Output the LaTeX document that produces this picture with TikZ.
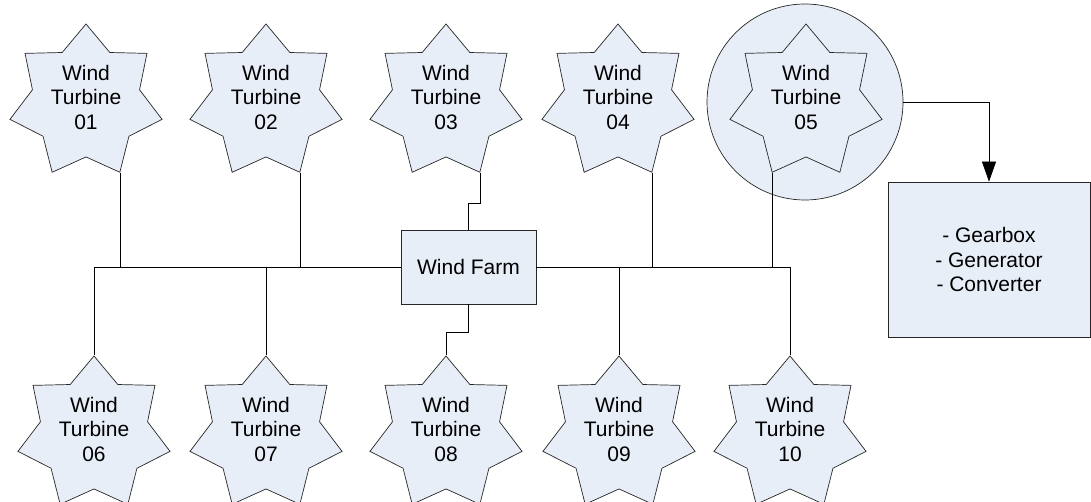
\documentclass[tikz,border=0pt]{standalone}
\usepackage{fontspec}
\setmainfont{Liberation Sans}
\usetikzlibrary{shapes.geometric,arrows.meta,calc}
\definecolor{shapefill}{RGB}{232,238,248}
\begin{document}
\begin{tikzpicture}[x=1pt,y=-1pt,
  turbine/.style={star, star points=7, star point ratio=1.42, minimum size=156pt,
    inner sep=0pt, draw=black!85, fill=shapefill, line width=0.7pt},
  tlabel/.style={align=center, font=\fontsize{21}{24.5}\selectfont, inner sep=0pt},
  box/.style={draw=black!85, fill=shapefill, line width=0.7pt, align=center,
    font=\fontsize{21}{24.5}\selectfont},
  wire/.style={draw=black, line width=0.7pt}]

\useasboundingbox (0,0) rectangle (1091,502);

% highlight around turbine 05
\node[circle, draw=black!85, fill=shapefill, line width=0.7pt,
      minimum size=196pt, inner sep=0pt] (c05) at (805,102) {};

% turbines
\foreach \n/\x/\y in {01/86/102, 02/266/102, 03/446/102, 04/618/102, 05/806/102,
                      06/94/434, 07/266/434, 08/446/434, 09/619/434, 10/790/434} {
  \node[turbine] (t\n) at (\x,\y) {};
  \node[tlabel, yshift=5pt] (l\n) at (t\n.center) {Wind\\Turbine\\\n};
}

% farm and component boxes
\node[box, minimum width=135pt, minimum height=74pt] (wf) at (468.5,267) {Wind Farm};
\node[box, minimum width=202pt, minimum height=155pt] (parts) at (989,259.5)
  {- Gearbox\\- Generator\\- Converter};

% bus
\coordinate (busL) at (t06.outer point 1 |- wf.west);
\coordinate (busR) at (t10.outer point 1 |- wf.east);
\draw[wire] (busL) -- (wf.west);
\draw[wire] (wf.east) -- (busR);

% upper turbines to bus
\draw[wire] (t01.outer point 5) -- (t01.outer point 5 |- busL);
\draw[wire] (t02.outer point 5) -- (t02.outer point 5 |- busL);
\draw[wire] (t04.outer point 5) -- (t04.outer point 5 |- busL);
\draw[wire] (t05.outer point 4) -- (t05.outer point 4 |- busL);
\draw[wire] (t03.outer point 5) -- ++(0,31) -| (wf.north);

% bus to lower turbines
\draw[wire] (busL) -- (t06.outer point 1);
\draw[wire] (t07.outer point 1 |- busL) -- (t07.outer point 1);
\draw[wire] (t09.outer point 1 |- busL) -- (t09.outer point 1);
\draw[wire] (busR) -- (t10.outer point 1);
\draw[wire] (wf.south) -- ++(0,28) -| (t08.outer point 1);

% detail arrow
\draw[wire, -{Triangle[length=20pt,width=14pt]}] (c05.east) -| (parts.north);
\end{tikzpicture}
\end{document}
